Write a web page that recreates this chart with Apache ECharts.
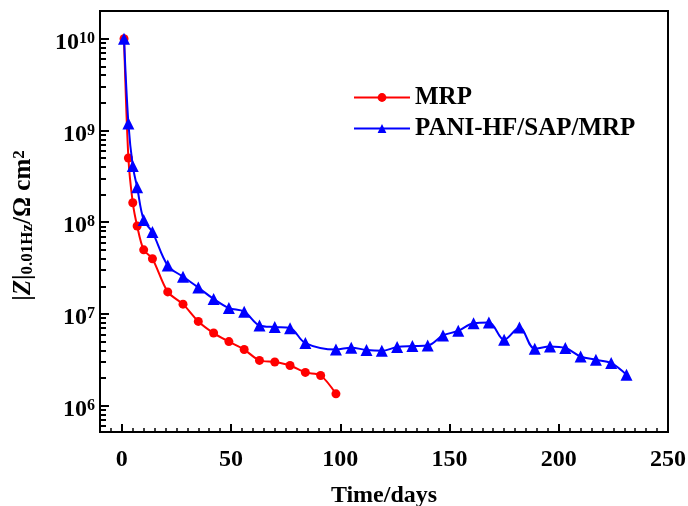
<!DOCTYPE html>
<html>
<head>
<meta charset="utf-8">
<script src="https://cdn.jsdelivr.net/npm/echarts@6/dist/echarts.min.js"></script>
<style>html,body{margin:0;padding:0;background:#fff}#c{width:688px;height:506px}</style>
</head>
<body>
<div id="c"></div>
<script>
// ---- data ----
const mrpDays = [1, 3, 5, 7, 10, 14, 21, 28, 35, 42, 49, 56, 63, 70, 77, 84, 91, 98];
const mrpZ = [1.0e10, 5.0e8, 1.63e8, 9.1e7, 5.0e7, 4.0e7, 1.74e7, 1.28e7, 8.3e6, 6.2e6, 5.0e6, 4.1e6, 3.12e6, 3.0e6, 2.75e6, 2.31e6, 2.14e6, 1.35e6];
const paniDays = [1, 3, 5, 7, 10, 14, 21, 28, 35, 42, 49, 56, 63, 70, 77, 84, 98, 105, 112, 119, 126, 133, 140, 147, 154, 161, 168, 175, 182, 189, 196, 203, 210, 217, 224, 231];
const paniZ = [1.0e10, 1.19e9, 4.1e8, 2.4e8, 1.06e8, 7.8e7, 3.37e7, 2.55e7, 1.94e7, 1.46e7, 1.16e7, 1.06e7, 7.5e6, 7.2e6, 7.0e6, 4.82e6, 4.1e6, 4.3e6, 4.05e6, 3.97e6, 4.36e6, 4.47e6, 4.54e6, 5.83e6, 6.56e6, 7.94e6, 8.07e6, 5.24e6, 7.13e6, 4.18e6, 4.43e6, 4.26e6, 3.44e6, 3.17e6, 2.92e6, 2.18e6];
const seriesNames = ['MRP', 'PANI-HF/SAP/MRP'];
const xMajorTicks = [0, 50, 100, 150, 200, 250];
const yMajorTicks = [1e6, 1e7, 1e8, 1e9, 1e10];
const X_MIN = -10, X_MAX = 250, Y_MIN = 5.18e5, Y_MAX = 2.0e10;
const xMinorTicks = [];
for (let v = -5; v < 250; v += 5) { if (v % 50 !== 0) xMinorTicks.push(v); }
const yMinorTicks = [];
for (let e = 5; e <= 9; e++) { for (let m = 2; m <= 9; m++) { const v = m * Math.pow(10, e); if (v > Y_MIN && v < Y_MAX) yMinorTicks.push(v); } }

const FONT = '"Liberation Serif", "Times New Roman", serif';
const chart = echarts.init(document.getElementById('c'), null, {renderer: 'canvas'});

function pair(xs, ys) { return xs.map((x, i) => [x, ys[i]]); }

chart.setOption({
  animation: false,
  backgroundColor: '#fff',
  grid: {left: 100, right: 20, top: 11, bottom: 74, containLabel: false, outerBoundsMode: 'none',
         show: true, borderColor: '#000', borderWidth: 2, backgroundColor: 'transparent'},
  legend: {
    orient: 'vertical', left: 353, top: 85, padding: 0, itemWidth: 56, itemHeight: 11, itemGap: 6, itemTextGap: 7,
    data: seriesNames,
    textStyle: {fontFamily: FONT, fontWeight: 'bold', fontSize: 25, color: '#000', lineHeight: 25}
  },
  xAxis: [{
    type: 'value', min: X_MIN, max: X_MAX, splitNumber: 5,
    name: 'Time/days', nameLocation: 'middle', nameGap: 52,
    nameTextStyle: {fontFamily: FONT, fontWeight: 'bold', fontSize: 24, color: '#000'},
    axisLine: {show: true, onZero: false, lineStyle: {color: '#000', width: 2}},
    axisTick: {show: true, inside: true, length: 8, customValues: xMajorTicks, lineStyle: {color: '#000', width: 2}},
    splitLine: {show: false},
    axisLabel: {
      margin: 16, fontFamily: FONT, fontWeight: 'bold', fontSize: 24, color: '#000',
      customValues: xMajorTicks
    }
  }, {
    type: 'value', min: X_MIN, max: X_MAX, position: 'bottom', offset: 0,
    axisLine: {show: false, onZero: false},
    axisTick: {show: true, inside: true, length: 4, customValues: xMinorTicks, lineStyle: {color: '#000', width: 1.5}},
    axisLabel: {show: false}, splitLine: {show: false}
  }],
  yAxis: [{
    type: 'log', logBase: 10, min: Y_MIN, max: Y_MAX,
    name: '{n||}{z|Z}{n||}{sub|0.01Hz}{n|/Ω cm}{sup|2}',
    nameLocation: 'middle', nameGap: 64, nameRotate: 90,
    nameTextStyle: {
      fontFamily: FONT, fontWeight: 'bold', fontSize: 25, color: '#000', padding: [0, 8, 0, 0],
      rich: {
        n: {fontFamily: FONT, fontWeight: 'bold', fontSize: 25, color: '#000', lineHeight: 25, verticalAlign: 'middle'},
        z: {fontFamily: FONT, fontWeight: 'bold', fontStyle: 'italic', fontSize: 25, color: '#000', lineHeight: 25, verticalAlign: 'middle'},
        sub: {fontFamily: FONT, fontWeight: 'bold', fontSize: 17, color: '#000', lineHeight: 17, verticalAlign: 'bottom'},
        sup: {fontFamily: FONT, fontWeight: 'bold', fontSize: 17, color: '#000', lineHeight: 17, verticalAlign: 'top'}
      }
    },
    axisLine: {show: true, onZero: false, lineStyle: {color: '#000', width: 2}},
    axisTick: {show: true, inside: true, length: 9, customValues: yMajorTicks, lineStyle: {color: '#000', width: 2}},
    splitLine: {show: false},
    axisLabel: {
      margin: 5, fontFamily: FONT, fontWeight: 'bold', fontSize: 24, color: '#000', padding: [8, 0, 0, 0],
      customValues: yMajorTicks,
      formatter: v => '{b|10}{s|' + Math.round(Math.log10(v)) + '}',
      rich: {
        b: {fontFamily: FONT, fontWeight: 'bold', fontSize: 24, color: '#000', lineHeight: 24, padding: [5, 0, 0, 0], verticalAlign: 'bottom'},
        s: {fontFamily: FONT, fontWeight: 'bold', fontSize: 16, color: '#000', lineHeight: 16, verticalAlign: 'top'}
      }
    }
  }, {
    type: 'log', logBase: 10, min: Y_MIN, max: Y_MAX, position: 'left', offset: 0,
    axisLine: {show: false, onZero: false},
    axisTick: {show: true, inside: true, length: 6, customValues: yMinorTicks, lineStyle: {color: '#000', width: 2}},
    axisLabel: {show: false}, splitLine: {show: false}
  }],
  series: [
    {
      name: seriesNames[0], type: 'line', data: pair(mrpDays, mrpZ), smooth: 0.3,
      symbol: 'circle', symbolSize: 9, color: '#ff0000',
      lineStyle: {color: '#ff0000', width: 2}, itemStyle: {color: '#ff0000'}, z: 2
    },
    {
      name: seriesNames[1], type: 'line', data: pair(paniDays, paniZ), smooth: 0.35,
      symbol: 'triangle', symbolSize: 12, color: '#0000ff',
      lineStyle: {color: '#0000ff', width: 2}, itemStyle: {color: '#0000ff'}, z: 3
    }
  ]
});
</script>
</body>
</html>
